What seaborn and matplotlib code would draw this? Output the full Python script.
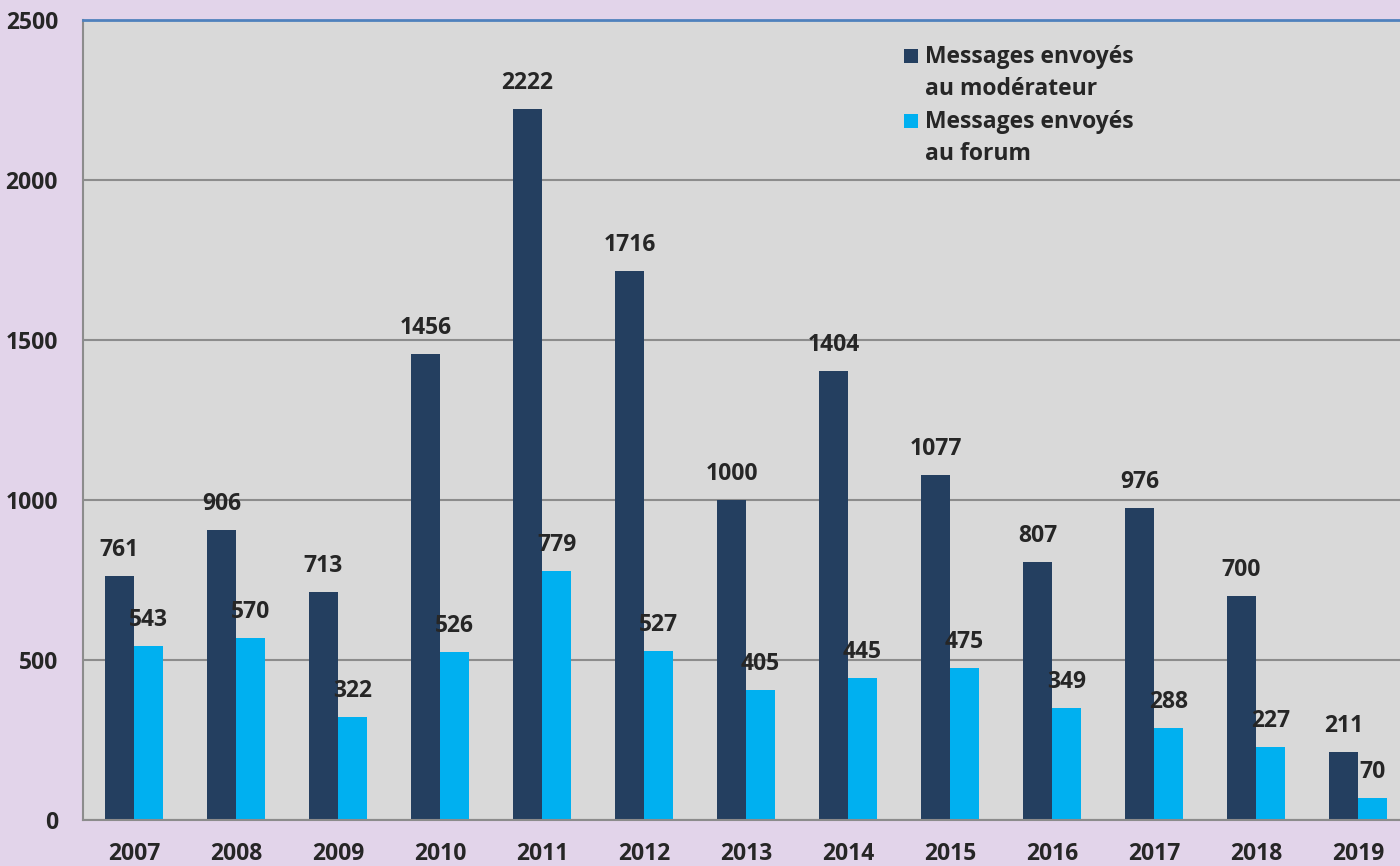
import numpy as np
import pandas as pd
import seaborn as sns
import matplotlib.pyplot as plt
from matplotlib.patches import Rectangle

years = ["2007", "2008", "2009", "2010", "2011", "2012", "2013",
         "2014", "2015", "2016", "2017", "2018", "2019"]
moderateur = [761, 906, 713, 1456, 2222, 1716, 1000, 1404, 1077, 807, 976, 700, 211]
forum = [543, 570, 322, 526, 779, 527, 405, 445, 475, 349, 288, 227, 70]
series = ["Messages envoyés\nau modérateur", "Messages envoyés\nau forum"]
colors = ["#243f60", "#00b0f0"]

df = pd.DataFrame({
    "annee": years * 2,
    "valeur": moderateur + forum,
    "serie": [series[0]] * len(years) + [series[1]] * len(years),
})

sns.set_style("white")
plt.rcParams["font.family"] = ["Open Sans", "DejaVu Sans"]
plt.rcParams["font.weight"] = "bold"
fs = 16.5

fig = plt.figure(figsize=(14, 8.66), dpi=100)
fig.patch.set_facecolor("#e2d4ea")
ax = fig.add_axes([83 / 1400, 46 / 866, 1326 / 1400, 800 / 866])
ax.set_facecolor("#d9d9d9")

sns.barplot(data=df, x="annee", y="valeur", hue="serie", palette=colors,
            width=0.57, gap=0, saturation=1, linewidth=0, legend=False, ax=ax)

for cont in ax.containers:
    for bar in cont:
        h = bar.get_height()
        ax.annotate(f"{int(h)}", (bar.get_x() + bar.get_width() / 2, h),
                    xytext=(0, 14), textcoords="offset pixels",
                    ha="center", va="bottom", fontsize=fs, fontweight="bold")

ax.set_xlim(-0.5, len(years) - 0.5)
ax.set_ylim(0, 2500)
ax.set_yticks([0, 500, 1000, 1500, 2000, 2500])
ax.yaxis.grid(True, color="#8c8c8c", linewidth=1.5)
ax.set_axisbelow(True)
ax.set_xlabel("")
ax.set_ylabel("")

ax.set_xticks(np.arange(-0.5, len(years), 1), minor=True)
ax.tick_params(axis="x", which="major", length=0, pad=16, labelsize=fs)
ax.tick_params(axis="x", which="minor", length=7, width=1.5, color="#8c8c8c")
ax.tick_params(axis="y", length=8, width=1.5, color="#8c8c8c", pad=10, labelsize=fs)
for lab in ax.get_xticklabels() + ax.get_yticklabels():
    lab.set_fontweight("bold")

for s in ["left", "bottom"]:
    ax.spines[s].set_color("#8c8c8c")
    ax.spines[s].set_linewidth(1.5)
ax.spines["right"].set_visible(False)
ax.spines["top"].set_color("#4f81bd")
ax.spines["top"].set_linewidth(2)

# legend drawn by hand so the square sits on the first line of each label
W, H = 1400, 866
for i, (lab, col) in enumerate(zip(series, colors)):
    y0 = 56 + i * 65
    fig.patches.append(Rectangle((904 / W, 1 - (y0 + 7) / H), 14 / W, 14 / H,
                                 transform=fig.transFigure, facecolor=col,
                                 edgecolor="none"))
    fig.text(925 / W, 1 - (y0 - 11) / H, lab, ha="left", va="top",
             fontsize=fs, fontweight="bold", linespacing=1.45)

fig.savefig("out.png", dpi=100, facecolor=fig.get_facecolor())
